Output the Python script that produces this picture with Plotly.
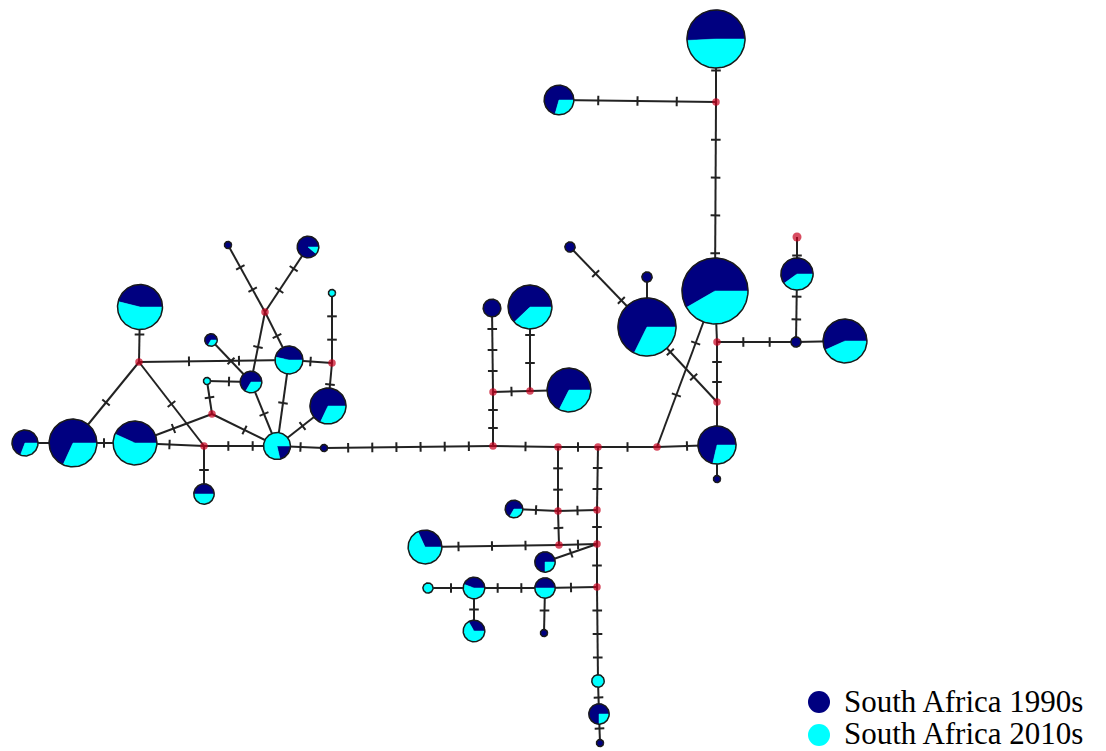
import math
import plotly.graph_objects as go

# ---------------- data ----------------
# haplotypes: name, sample counts per period
hap_names = ["H1", "H2", "H3", "H4", "H5", "H6", "H7", "H8", "H9", "H10",
             "H11", "H12", "H13", "H14", "H15", "H16", "H17", "H18", "H19", "H20",
             "H21", "H22", "H23", "H24", "H25", "H26", "H27", "H28", "H29", "H30",
             "H31", "H32", "H33", "H34", "H35", "H36", "H37", "H38", "H39", "H40"]
count_1990s = [9, 30, 16, 18, 4, 2, 1, 8, 0, 7,
               6, 0, 3, 17, 1, 6, 23, 25, 4, 7,
               6, 4, 4, 0, 3, 1, 0, 6, 1, 33,
               12, 49, 2, 2, 44, 12, 2, 21, 20, 1]
count_2010s = [4, 14, 21, 21, 4, 1, 0, 1, 1, 8,
               3, 1, 11, 8, 0, 0, 14, 12, 2, 15,
               2, 5, 4, 2, 6, 0, 3, 2, 0, 32,
               5, 35, 0, 0, 21, 8, 0, 16, 8, 0]
# network layout (pixel space of the drawing)
hap_x = [25, 73, 135, 140, 204, 211, 228, 308, 332, 289,
         251, 207, 277, 328, 324, 492, 530, 569, 514, 425,
         545, 474, 545, 428, 474, 544, 598, 599, 600, 716,
         559, 715, 570, 647, 647, 797, 796, 845, 717, 717]
hap_y = [443, 443, 443, 307, 494, 340, 245, 247, 293, 360,
         382, 381, 446, 406, 448, 308, 307, 390, 509, 547,
         562, 588, 588, 588, 631, 633, 681, 714, 743, 39,
         100, 291, 247, 277, 327, 274, 342, 341, 445, 479]
# pies whose 1990s slice is drawn clockwise
clockwise_haps = ["H13"]

# median vectors (inferred, unsampled)
median_names = ["m1", "m2", "m3", "m4", "m5", "m6", "m7", "m8", "m9", "m10",
                "m11", "m12", "m13", "m14", "m15", "m16", "m17", "m18", "m19", "m20"]
median_x = [139, 204, 265, 332, 212, 493, 493, 530, 558, 558,
            559, 598, 597, 597, 597, 657, 716, 717, 717, 797]
median_y = [362, 446, 312, 363, 414, 446, 392, 391, 447, 511,
            545, 447, 510, 544, 587, 447, 102, 342, 402, 237]

# edges: from, to, number of mutations
edge_from = ["H1", "H2", "H2", "H4", "m1", "m1", "H3", "H3", "m2", "m2",
             "m5", "m5", "H12", "H6", "m3", "m3", "m3", "m3", "H10", "H9",
             "m4", "H10", "H11", "H14", "H13", "H15", "m6", "m7", "m7", "m8",
             "m8", "m6", "m9", "m12", "m16", "m16", "m9", "m10", "m10", "m10",
             "m11", "m11", "m12", "m13", "m14", "m14", "m15", "H23", "H22", "H22",
             "H23", "m15", "H27", "H28", "H30", "H31", "m17", "H33", "H34", "H35",
             "H32", "m18", "m19", "H39", "m18", "H37", "H37", "H36"]
edge_to = ["H2", "H3", "m1", "m1", "m2", "H10", "m2", "m5", "H5", "H13",
           "H12", "H13", "H11", "H11", "H7", "H8", "H10", "H11", "m4", "m4",
           "H14", "H13", "H13", "H13", "H15", "m6", "m7", "H16", "m8", "H17",
           "H18", "m9", "m12", "m16", "H39", "H32", "m10", "H19", "m13", "m11",
           "H20", "m14", "m13", "m14", "H21", "m15", "H23", "H22", "H24", "H25",
           "H26", "H27", "H28", "H29", "m17", "m17", "H32", "H35", "H35", "m19",
           "m18", "m19", "H39", "H40", "H37", "H38", "H36", "m20"]
edge_mutations = [0, 1, 1, 1, 1, 2, 1, 1, 1, 2,
                  1, 1, 1, 1, 2, 2, 1, 1, 1, 2,
                  1, 1, 1, 1, 1, 6, 2, 3, 1, 2,
                  0, 1, 1, 1, 1, 2, 2, 1, 1, 1,
                  3, 1, 2, 1, 1, 1, 1, 2, 1, 1,
                  1, 3, 1, 1, 1, 3, 4, 2, 0, 2,
                  0, 2, 0, 0, 2, 0, 2, 1]

legend_labels = ["South Africa 1990s", "South Africa 2010s"]

# ---------------- style ----------------
NAVY = "#000080"
CYAN = "#00ffff"
RED = "#c8001e"
LINE = "#222222"
W, H = 1106, 751
PAGE_MARGIN = 8          # default body margin of the html page
RADIUS_PER_SQRT = 3.6
TICK_HALF = 4.8

pos = {n: (x, y) for n, x, y in zip(hap_names, hap_x, hap_y)}
pos.update({n: (x, y) for n, x, y in zip(median_names, median_x, median_y)})

fig = go.Figure()

# edges
ex, ey = [], []
tx, ty = [], []
for a, b, m in zip(edge_from, edge_to, edge_mutations):
    x0, y0 = pos[a]
    x1, y1 = pos[b]
    ex += [x0, x1, None]
    ey += [y0, y1, None]
    L = math.hypot(x1 - x0, y1 - y0)
    ux, uy = (x1 - x0) / L, (y1 - y0) / L
    px, py = -uy, ux
    for i in range(1, m + 1):
        t = i / (m + 1)
        cx, cy = x0 + t * (x1 - x0), y0 + t * (y1 - y0)
        tx += [cx - TICK_HALF * px, cx + TICK_HALF * px, None]
        ty += [cy - TICK_HALF * py, cy + TICK_HALF * py, None]

fig.add_trace(go.Scatter(x=ex, y=ey, mode="lines",
                         line=dict(color=LINE, width=2), hoverinfo="skip"))
fig.add_trace(go.Scatter(x=tx, y=ty, mode="lines",
                         line=dict(color=LINE, width=2), hoverinfo="skip"))


def arc_pts(cx, cy, r, a0, a1):
    n = max(3, int(abs(a1 - a0) / 3) + 1)
    xs, ys = [], []
    for k in range(n + 1):
        a = math.radians(a0 + (a1 - a0) * k / n)
        xs.append(cx + r * math.cos(a))
        ys.append(cy - r * math.sin(a))
    return xs, ys


navy_x, navy_y, cyan_x, cyan_y, ol_x, ol_y = [], [], [], [], [], []
for name, cx, cy, n9, n1 in zip(hap_names, hap_x, hap_y, count_1990s, count_2010s):
    tot = n9 + n1
    r = RADIUS_PER_SQRT * math.sqrt(tot)
    f = n9 / tot
    cw = name in clockwise_haps
    if f >= 1:
        xs, ys = arc_pts(cx, cy, r, 0, 360)
        navy_x += xs + [None]
        navy_y += ys + [None]
    elif f <= 0:
        xs, ys = arc_pts(cx, cy, r, 0, 360)
        cyan_x += xs + [None]
        cyan_y += ys + [None]
    else:
        span = f * 360
        if cw:
            n0, n1a = -span, 0
            c0, c1a = 0, 360 - span
        else:
            n0, n1a = 0, span
            c0, c1a = span, 360
        xs, ys = arc_pts(cx, cy, r, n0, n1a)
        navy_x += [cx] + xs + [cx, None]
        navy_y += [cy] + ys + [cy, None]
        xs, ys = arc_pts(cx, cy, r, c0, c1a)
        cyan_x += [cx] + xs + [cx, None]
        cyan_y += [cy] + ys + [cy, None]
    xs, ys = arc_pts(cx, cy, r, 0, 360)
    ol_x += xs + [None]
    ol_y += ys + [None]

fig.add_trace(go.Scatter(x=navy_x, y=navy_y, mode="lines", fill="toself",
                         fillcolor=NAVY, line=dict(color=NAVY, width=0.5),
                         hoverinfo="skip"))
fig.add_trace(go.Scatter(x=cyan_x, y=cyan_y, mode="lines", fill="toself",
                         fillcolor=CYAN, line=dict(color=CYAN, width=0.5),
                         hoverinfo="skip"))
fig.add_trace(go.Scatter(x=ol_x, y=ol_y, mode="lines",
                         line=dict(color="#1a1a1a", width=1.5), hoverinfo="skip"))

# median vectors
msize = [9 if n == "m20" else 7.5 for n in median_names]
fig.add_trace(go.Scatter(x=median_x, y=median_y, mode="markers",
                         marker=dict(color=RED, size=msize, line=dict(width=0)),
                         hoverinfo="skip"))

# legend
fig.add_trace(go.Scatter(x=[819, 819], y=[702, 735], mode="markers",
                         marker=dict(color=[NAVY, CYAN], size=22, line=dict(width=0)),
                         hoverinfo="skip", cliponaxis=False))
for lab, yy in zip(legend_labels, [701, 733]):
    fig.add_annotation(x=842, y=yy, xref="x", yref="y", text=lab, showarrow=False,
                       xanchor="left", yanchor="middle",
                       font=dict(family="Liberation Serif, Times New Roman, serif",
                                 size=31, color="#000000"))

fig.update_layout(width=W - PAGE_MARGIN, height=H - PAGE_MARGIN,
                  margin=dict(l=0, r=0, t=0, b=0),
                  paper_bgcolor="white", plot_bgcolor="white", showlegend=False,
                  xaxis=dict(range=[PAGE_MARGIN, W], visible=False, fixedrange=True),
                  yaxis=dict(range=[H, PAGE_MARGIN], visible=False, fixedrange=True))

fig.write_html("out.html")
